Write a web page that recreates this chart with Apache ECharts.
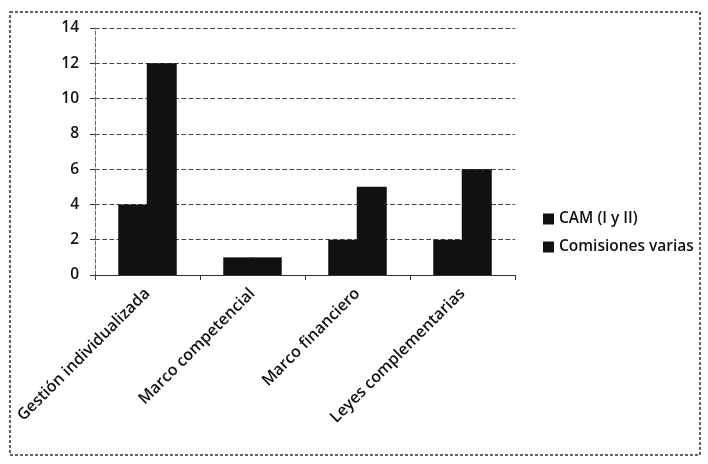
<!DOCTYPE html>
<html><head><meta charset="utf-8">
<script src="https://cdn.jsdelivr.net/npm/echarts@6/dist/echarts.min.js"></script>
<style>html,body{margin:0;padding:0;background:#fff}#c{width:708px;height:464px}</style>
</head><body><div id="c"></div>
<script>
const categories = ['Gestión individualizada', 'Marco competencial', 'Marco financiero', 'Leyes complementarias'];
const camValues = [4, 1, 2, 2];
const comisionesValues = [12, 1, 5, 6];
const seriesNames = ['CAM (I y II)', 'Comisiones varias'];
const yTicks = [0, 2, 4, 6, 8, 10, 12, 14];

const chart = echarts.init(document.getElementById('c'));
const font = "'Open Sans', 'Liberation Sans', sans-serif";
chart.setOption({
  animation: false,
  backgroundColor: '#fff',
  graphic: [{
    type: 'rect', shape: {x: 10, y: 12, width: 690, height: 443},
    style: {fill: 'none', stroke: '#333', lineWidth: 1.5, lineDash: [3, 2]}
  }],
  grid: {left: 95, right: 193, top: 28, bottom: 189},
  legend: {
    orient: 'vertical', left: 538, top: 206, itemGap: 12,
    itemWidth: 11, itemHeight: 11, icon: 'rect',
    textStyle: {fontFamily: font, fontSize: 15.5, fontWeight: 600, color: '#111'},
    data: seriesNames
  },
  xAxis: {
    type: 'category', data: categories,
    axisLine: {lineStyle: {color: '#333', width: 1}},
    axisTick: {show: true, length: 5, lineStyle: {color: '#333'}},
    axisLabel: {rotate: 45, margin: 16, fontFamily: font, fontSize: 16, fontWeight: 600, color: '#111', interval: 0}
  },
  yAxis: {
    type: 'value', min: 0, max: 14, interval: 2,
    axisLine: {show: true, lineStyle: {color: '#666', type: 'dashed'}},
    axisTick: {show: true, length: 5, lineStyle: {color: '#333'}},
    axisLabel: {fontFamily: font, fontSize: 15.5, fontWeight: 600, color: '#111', margin: 16,
      formatter: v => yTicks.includes(v) ? String(v) : ''},
    splitLine: {lineStyle: {color: '#444', type: 'dashed', width: 1.2}}
  },
  series: [
    {name: seriesNames[0], type: 'bar', data: camValues, barWidth: 30, barGap: '-5%', itemStyle: {color: '#111'}},
    {name: seriesNames[1], type: 'bar', data: comisionesValues, barWidth: 30, barGap: '-5%', itemStyle: {color: '#111'}}
  ]
});
</script></body></html>
